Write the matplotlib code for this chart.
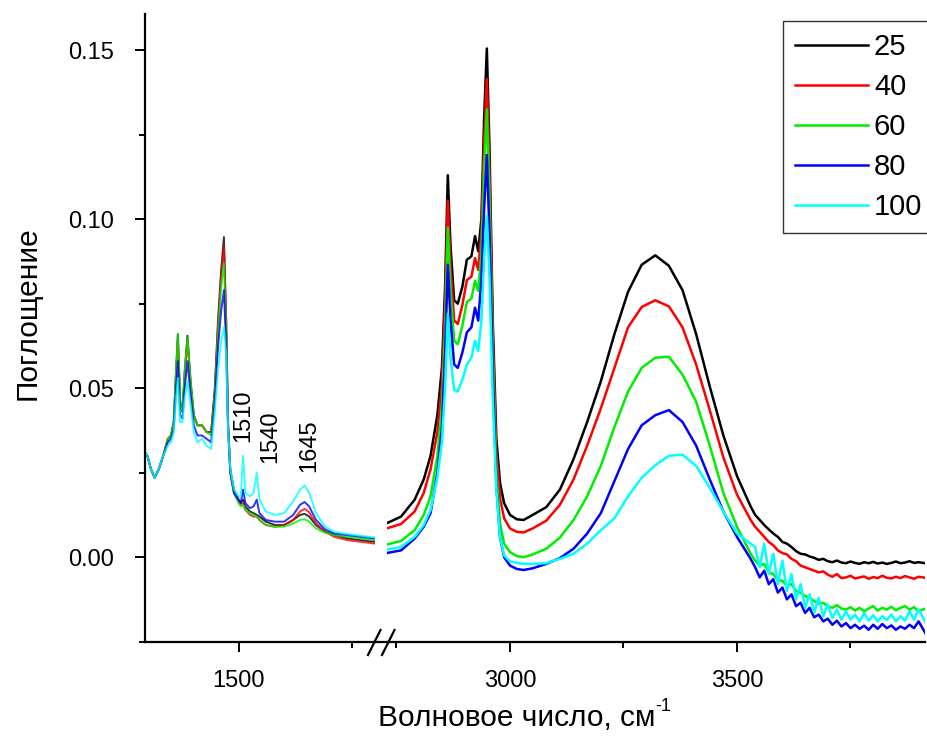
import matplotlib
matplotlib.use("Agg")
import matplotlib.pyplot as plt
from matplotlib.lines import Line2D
from matplotlib.ticker import MultipleLocator, FixedLocator

plt.rcParams['font.family'] = ['Liberation Sans', 'DejaVu Sans']

labels = ['25', '40', '60', '80', '100']
colors = ['#000000', '#ff0000', '#00ee00', '#0000ff', '#00ffff']

# left part of the spectrum (fingerprint region)
x_left = [1295, 1300, 1308, 1316, 1325, 1335, 1345, 1352, 1358, 1363, 1367, 1372, 1377,
          1382, 1388, 1395, 1402, 1410, 1420, 1430, 1440, 1448, 1455, 1462, 1468, 1473,
          1477, 1482, 1490, 1500, 1505, 1510, 1515, 1525, 1533, 1540, 1546, 1560, 1580,
          1600, 1620, 1635, 1645, 1655, 1670, 1690, 1710, 1740, 1770, 1800]
left_25 = [0.031, 0.030, 0.026, 0.0235, 0.026, 0.030, 0.035, 0.036, 0.040, 0.055, 0.066, 0.046, 0.043,
           0.055, 0.0655, 0.052, 0.042, 0.039, 0.039, 0.037, 0.037, 0.050, 0.070, 0.085, 0.0947, 0.070,
           0.040, 0.026, 0.020, 0.017, 0.016, 0.017, 0.015, 0.0135, 0.013, 0.0125, 0.012, 0.0105, 0.0095,
           0.0095, 0.011, 0.0125, 0.0128, 0.012, 0.0095, 0.0075, 0.0065, 0.0055, 0.005, 0.0045]
left_40 = [0.031, 0.030, 0.026, 0.0235, 0.026, 0.030, 0.035, 0.036, 0.040, 0.054, 0.064, 0.046, 0.043,
           0.054, 0.064, 0.051, 0.042, 0.039, 0.039, 0.037, 0.037, 0.049, 0.068, 0.083, 0.092, 0.069,
           0.040, 0.025, 0.019, 0.0165, 0.0155, 0.016, 0.014, 0.0125, 0.012, 0.012, 0.011, 0.0095, 0.009,
           0.0095, 0.011, 0.0135, 0.0143, 0.0133, 0.010, 0.0075, 0.006, 0.005, 0.0045, 0.004]
left_60 = [0.031, 0.030, 0.026, 0.0235, 0.026, 0.030, 0.035, 0.036, 0.040, 0.055, 0.066, 0.046, 0.043,
           0.055, 0.065, 0.052, 0.042, 0.039, 0.039, 0.037, 0.036, 0.048, 0.066, 0.080, 0.087, 0.066,
           0.039, 0.025, 0.019, 0.016, 0.015, 0.0155, 0.014, 0.013, 0.0125, 0.012, 0.011, 0.0095, 0.009,
           0.009, 0.010, 0.011, 0.0112, 0.0105, 0.0085, 0.0072, 0.0065, 0.006, 0.0055, 0.005]
left_80 = [0.031, 0.030, 0.026, 0.0235, 0.026, 0.030, 0.034, 0.035, 0.038, 0.050, 0.058, 0.042, 0.041,
           0.050, 0.058, 0.048, 0.039, 0.036, 0.036, 0.035, 0.034, 0.046, 0.062, 0.073, 0.079, 0.062,
           0.038, 0.025, 0.019, 0.017, 0.016, 0.020, 0.016, 0.0145, 0.015, 0.017, 0.013, 0.011, 0.0105,
           0.0105, 0.0125, 0.0155, 0.0163, 0.015, 0.011, 0.0082, 0.007, 0.0065, 0.006, 0.0055]
left_100 = [0.031, 0.030, 0.026, 0.0235, 0.026, 0.030, 0.033, 0.034, 0.037, 0.047, 0.053, 0.040, 0.040,
            0.047, 0.052, 0.045, 0.037, 0.034, 0.035, 0.033, 0.032, 0.043, 0.055, 0.064, 0.068, 0.060,
            0.038, 0.026, 0.020, 0.018, 0.018, 0.030, 0.019, 0.018, 0.019, 0.025, 0.017, 0.0135, 0.0125,
            0.013, 0.0165, 0.020, 0.0212, 0.019, 0.013, 0.009, 0.0075, 0.0068, 0.0063, 0.0058]

# right part of the spectrum (CH and OH stretching)
x_right = [2728, 2760, 2790, 2810, 2825, 2840, 2850, 2857, 2863, 2869, 2877, 2885, 2895, 2905, 2915,
           2923, 2930, 2937, 2943, 2949, 2955, 2962, 2970, 2978, 2987, 3000, 3015, 3030, 3050, 3080,
           3110, 3140, 3170, 3200, 3230, 3260, 3290, 3320, 3350, 3380, 3410, 3440, 3470, 3500, 3530,
           3540, 3550, 3560, 3570, 3580, 3590, 3600, 3610, 3620, 3630, 3640, 3650, 3660, 3670, 3680,
           3690, 3700, 3710, 3720, 3730, 3740, 3750, 3760, 3770, 3780, 3790, 3800, 3810, 3820, 3830,
           3840, 3850, 3860, 3870, 3880, 3890, 3900, 3915]
right_25 = [0.0100, 0.0120, 0.0170, 0.0230, 0.0300, 0.0420, 0.0560, 0.0800, 0.1130, 0.0920, 0.0760,
            0.0750, 0.0800, 0.0880, 0.0890, 0.0950, 0.0905, 0.1000, 0.1300, 0.1505, 0.1200, 0.0700,
            0.0350, 0.0220, 0.0160, 0.0125, 0.0112, 0.0110, 0.0125, 0.0148, 0.0200, 0.0290, 0.0400,
            0.0520, 0.0660, 0.0785, 0.0865, 0.0893, 0.0862, 0.0790, 0.0660, 0.0505, 0.0360, 0.0240,
            0.0150, 0.0125, 0.0110, 0.0095, 0.0082, 0.0070, 0.0060, 0.0045, 0.0040, 0.0030, 0.0018,
            0.0010, 0.0008, 0.0002, -0.0002, -0.0008, -0.0005, -0.0012, -0.0015, -0.0010, -0.0016,
            -0.0018, -0.0013, -0.0017, -0.0020, -0.0015, -0.0018, -0.0014, -0.0019, -0.0016, -0.0020,
            -0.0017, -0.0013, -0.0018, -0.0016, -0.0012, -0.0017, -0.0015, -0.0018]
right_40 = [0.0085, 0.0098, 0.0135, 0.0190, 0.0260, 0.0370, 0.0510, 0.0750, 0.1055, 0.0860, 0.0700,
            0.0690, 0.0745, 0.0820, 0.0830, 0.0885, 0.0850, 0.0960, 0.1230, 0.1415, 0.1130, 0.0660,
            0.0310, 0.0175, 0.0115, 0.0085, 0.0075, 0.0073, 0.0085, 0.0108, 0.0155, 0.0230, 0.0330,
            0.0440, 0.0560, 0.0680, 0.0740, 0.0760, 0.0742, 0.0680, 0.0570, 0.0435, 0.0295, 0.0185,
            0.0110, 0.0090, 0.0075, 0.0060, 0.0045, 0.0035, 0.0020, 0.0012, 0.0008, -0.0005, -0.0012,
            -0.0025, -0.0030, -0.0035, -0.0040, -0.0045, -0.0042, -0.0052, -0.0058, -0.0050, -0.0062,
            -0.0060, -0.0055, -0.0063, -0.0060, -0.0057, -0.0064, -0.0059, -0.0062, -0.0055, -0.0061,
            -0.0063, -0.0058, -0.0062, -0.0056, -0.0060, -0.0064, -0.0058, -0.0061]
right_60 = [0.0037, 0.0048, 0.0080, 0.0125, 0.0180, 0.0300, 0.0440, 0.0680, 0.0975, 0.0790, 0.0640,
            0.0630, 0.0685, 0.0755, 0.0765, 0.0818, 0.0788, 0.0900, 0.1150, 0.1325, 0.1060, 0.0600,
            0.0250, 0.0100, 0.0040, 0.0015, 0.0003, 0.0000, 0.0008, 0.0025, 0.0058, 0.0110, 0.0180,
            0.0270, 0.0385, 0.0490, 0.0560, 0.0590, 0.0593, 0.0540, 0.0460, 0.0330, 0.0190, 0.0090,
            0.0010, -0.0010, -0.0025, -0.0020, -0.0045, -0.0050, -0.0068, -0.0070, -0.0085, -0.0080,
            -0.0100, -0.0105, -0.0115, -0.0120, -0.0130, -0.0138, -0.0135, -0.0145, -0.0150, -0.0142,
            -0.0152, -0.0155, -0.0148, -0.0158, -0.0150, -0.0160, -0.0152, -0.0145, -0.0158, -0.0150,
            -0.0155, -0.0147, -0.0157, -0.0150, -0.0145, -0.0155, -0.0148, -0.0160, -0.0152]
right_80 = [0.0012, 0.0020, 0.0055, 0.0090, 0.0130, 0.0250, 0.0380, 0.0600, 0.0865, 0.0700, 0.0570,
            0.0560, 0.0605, 0.0665, 0.0680, 0.0738, 0.0700, 0.0820, 0.1030, 0.1190, 0.0950, 0.0540,
            0.0210, 0.0060, 0.0000, -0.0025, -0.0035, -0.0038, -0.0033, -0.0020, -0.0003, 0.0025,
            0.0070, 0.0130, 0.0225, 0.0320, 0.0390, 0.0420, 0.0435, 0.0400, 0.0330, 0.0230, 0.0135,
            0.0060, -0.0005, -0.0030, -0.0060, -0.0040, -0.0080, -0.0065, -0.0105, -0.0090, -0.0125,
            -0.0110, -0.0145, -0.0135, -0.0165, -0.0150, -0.0178, -0.0170, -0.0190, -0.0182, -0.0200,
            -0.0188, -0.0205, -0.0195, -0.0210, -0.0200, -0.0212, -0.0203, -0.0215, -0.0200, -0.0212,
            -0.0198, -0.0210, -0.0202, -0.0215, -0.0205, -0.0212, -0.0200, -0.0210, -0.0190, -0.0225]
right_100 = [0.0022, 0.0030, 0.0060, 0.0095, 0.0140, 0.0235, 0.0340, 0.0500, 0.0720, 0.0590, 0.0495,
             0.0490, 0.0525, 0.0570, 0.0590, 0.0640, 0.0610, 0.0700, 0.0880, 0.1010, 0.0820, 0.0470,
             0.0200, 0.0060, 0.0005, -0.0012, -0.0017, -0.0020, -0.0020, -0.0018, -0.0005, 0.0010,
             0.0040, 0.0080, 0.0115, 0.0180, 0.0235, 0.0272, 0.0300, 0.0303, 0.0270, 0.0205, 0.0135,
             0.0070, 0.0040, 0.0030, -0.0030, 0.0040, -0.0050, 0.0010, -0.0080, -0.0010, -0.0100,
             -0.0050, -0.0125, -0.0080, -0.0150, -0.0110, -0.0165, -0.0120, -0.0175, -0.0140, -0.0180,
             -0.0155, -0.0185, -0.0160, -0.0185, -0.0170, -0.0190, -0.0165, -0.0188, -0.0172, -0.0190,
             -0.0175, -0.0186, -0.0170, -0.0190, -0.0175, -0.0188, -0.0160, -0.0185, -0.0155, -0.0192]

left_series = [left_25, left_40, left_60, left_80, left_100]
right_series = [right_25, right_40, right_60, right_80, right_100]

peak_pos = [1511, 1570, 1655]
peak_y = [0.034, 0.0278, 0.0251]
peak_txt = ['1510', '1540', '1645']

fig = plt.figure(figsize=(9.28, 7.42), dpi=100)
y0, y1 = 0.1348, 0.9811
ax1 = fig.add_axes([0.1563, y0, 0.4044 - 0.1563, y1 - y0])
ax2 = fig.add_axes([0.4165, y0, 0.9972 - 0.4165, y1 - y0])

for ys, c in zip(left_series, colors):
    ax1.plot(x_left, ys, color=c, lw=1.4, alpha=0.8)
for ys, c, lab in zip(right_series, colors, labels):
    ax2.plot(x_right, ys, color=c, lw=1.8, label=lab)

ylim = (-0.0251, 0.1607)
ax1.set_xlim(1295, 1800)
ax2.set_xlim(2728, 3915)
ax1.set_ylim(*ylim)
ax2.set_ylim(*ylim)

for ax in (ax1, ax2):
    ax.spines['top'].set_visible(False)
    ax.spines['right'].set_visible(False)
    ax.spines['bottom'].set_linewidth(1.6)
    ax.spines['left'].set_linewidth(1.6)
    ax.tick_params(which='major', direction='out', length=7, width=1.4, labelsize=17)
    ax.tick_params(which='minor', direction='out', length=4, width=1.4)
    ax.patch.set_alpha(0)

ax2.spines['left'].set_visible(False)
ax2.tick_params(axis='y', which='both', left=False, labelleft=False)

ax1.xaxis.set_major_locator(FixedLocator([1500]))
ax1.xaxis.set_minor_locator(FixedLocator([1750]))
ax2.xaxis.set_major_locator(FixedLocator([3000, 3500]))
ax2.xaxis.set_minor_locator(FixedLocator([2750, 3250, 3750]))
ax1.yaxis.set_major_locator(MultipleLocator(0.05))
ax1.yaxis.set_minor_locator(MultipleLocator(0.025))
ax1.yaxis.set_major_formatter(plt.FormatStrFormatter('%.2f'))
ax1.tick_params(axis='x', pad=13)
ax2.tick_params(axis='x', pad=13)
ax1.tick_params(axis='y', pad=15)

for px, py, t in zip(peak_pos, peak_y, peak_txt):
    ax1.text(px, py, t, rotation=90, ha='center', va='bottom', fontsize=17)

# bottom axis line through the gap and the break marks
xa, xb = 0.4044, 0.4165
fig.add_artist(Line2D([xa, xb], [y0, y0], color='black', lw=1.6))
for sx in (368, 382):
    fig.add_artist(Line2D([sx / 928, (sx + 12.5) / 928], [1 - 655 / 742, 1 - 630 / 742],
                          color='black', lw=1.6))

fig.text(28 / 928, 1 - 313 / 742, 'Поглощение', rotation=90, ha='center', va='center',
         fontsize=21.5)
xl = fig.text(0.557, 1 - 718 / 742, 'Волновое число, см', ha='center', va='center', fontsize=21.5)
ax2.annotate('-1', xy=(1.0, 0.92), xycoords=xl, ha='left', va='center', fontsize=13,
             annotation_clip=False)

leg = ax2.legend(loc='upper left', bbox_to_anchor=(783 / 928, 1 - 21 / 742),
                 bbox_transform=fig.transFigure, fontsize=21, frameon=True, fancybox=False,
                 handlelength=2.5, handletextpad=0.2, labelspacing=0.41, borderpad=0.42,
                 borderaxespad=0)
leg.get_frame().set_edgecolor('black')
leg.get_frame().set_linewidth(1.0)

fig.savefig('out.png', dpi=100)
